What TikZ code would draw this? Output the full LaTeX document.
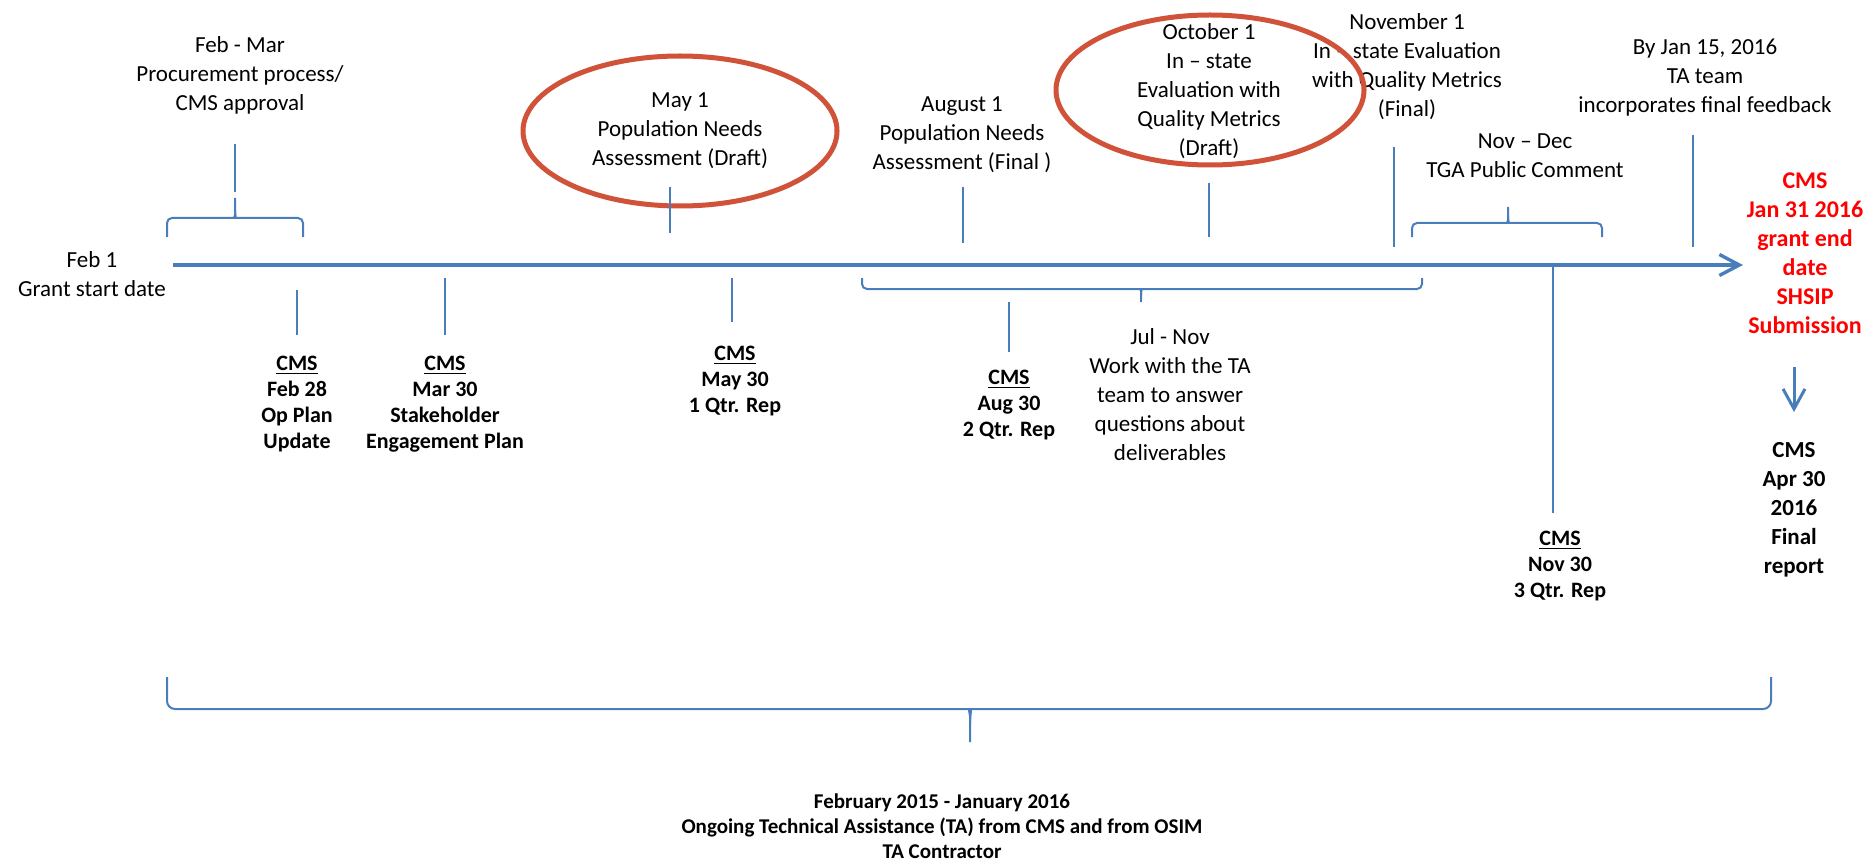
\documentclass[tikz,border=0pt]{standalone}
\usepackage{fontspec}
\setmainfont{Carlito}
\usetikzlibrary{arrows.meta}

\definecolor{lineblue}{RGB}{74,126,187}
\definecolor{ringred}{RGB}{208,82,56}

\tikzset{
  txt/.style={align=center, font=\fontsize{11.5}{14.5}\selectfont},
  cms/.style={align=center, font=\bfseries\fontsize{11}{13}\selectfont},
  tick/.style={draw=lineblue, line width=0.75pt},
  brc/.style={draw=lineblue, line width=1pt, rounded corners=2.5pt},
  ring/.style={draw=ringred, line width=2.5pt},
}

\begin{document}
\begin{tikzpicture}[x=0.5pt, y=-0.5pt]
    \useasboundingbox (0,0) rectangle (1866,861);
    % timeline
    \coordinate (tstart) at (173,265);
    \coordinate (tend) at (1743,265);
    \draw[lineblue, line width=1.7pt, -{Straight Barb[length=10pt,width=10.5pt]}] (tstart) -- (tend);

    % above the line
    \node[txt] (feb1) at (92,274) {Feb 1\\Grant start date};
    \node[txt] (febmar) at (240,75) {Feb - Mar\\Procurement process/\\CMS approval};
    \node[txt] (may1) at (680,131) {May 1\\Population Needs\\Assessment (Draft)};
    \node[txt] (aug1) at (962,135) {August 1\\Population Needs\\Assessment (Final )};
    \node[txt] (oct1) at (1209,91) {October 1\\In -- state\\Evaluation with\\Quality Metrics\\(Draft)};
    \node[txt] (nov1) at (1407,67) {November 1\\In -- state Evaluation\\with Quality Metrics\\(Final)};
    \node[txt] (novdec) at (1525,156) {Nov -- Dec\\TGA Public Comment};
    \node[txt] (jan15) at (1705,78) {By Jan 15, 2016\\TA team\\incorporates final feedback};
    \draw[ring] (may1) ellipse [x radius=157, y radius=75];
    \draw[ring] (1210,90) ellipse [x radius=154, y radius=75];

    % below the line
    \node[cms] (feb28) at (297,404) {\underline{CMS}\\Feb 28\\Op Plan\\Update};
    \node[cms] (mar30) at (445,404) {\underline{CMS}\\Mar 30\\Stakeholder\\Engagement Plan};
    \node[cms] (may30) at (735,381) {\underline{CMS}\\May 30\\1 Qtr. Rep};
    \node[cms] (aug30) at (1009,405) {\underline{CMS}\\Aug 30\\2 Qtr. Rep};
    \node[txt] (julnov) at (1170,395) {Jul - Nov\\Work with the TA\\team to answer\\questions about\\deliverables};
    \node[cms] (nov30) at (1560,566) {\underline{CMS}\\Nov 30\\3 Qtr. Rep};
    \node[align=center, text=red, font=\bfseries\fontsize{12}{14.5}\selectfont] (jan31) at (1805,253)
        {CMS\\Jan 31 2016\\grant end\\date\\SHSIP\\Submission};
    \node[align=center, font=\bfseries\fontsize{11.5}{14.5}\selectfont] (apr30) at (1794,510)
        {CMS\\Apr 30\\2016\\Final\\report};
    \node[align=center, font=\bfseries\fontsize{10.5}{12.5}\selectfont] (ongoing) at (942,826)
        {February 2015 - January 2016\\Ongoing Technical Assistance (TA) from CMS and from OSIM\\TA Contractor};

    % ticks
    \draw[tick] (235,144) -- (235,192);
    \draw[tick] (297,290) -- (297,335);
    \draw[tick] (445,278) -- (445,335);
    \draw[tick] (670,187) -- (670,233);
    \draw[tick] (732,278) -- (732,322);
    \draw[tick] (963,187) -- (963,243);
    \draw[tick] (1009,302) -- (1009,352);
    \draw[tick] (1209,183) -- (1209,237);
    \draw[tick] (1394,147) -- (1394,247);
    \draw[tick] (1693,135) -- (1693,247);
    \draw[tick] (1553,265) -- (1553,513);

    % braces
    \draw[brc] (167,237) -- (167,218) -- (229,218) .. controls (234,218) and (235,215) .. (235,210) -- (235,198);
    \draw[brc] (303,237) -- (303,218) -- (241,218) .. controls (236,218) and (235,215) .. (235,210);
    \draw[brc] (1412,237) -- (1412,223) -- (1502,223) .. controls (1507,223) and (1508,220) .. (1508,215) -- (1508,207);
    \draw[brc] (1602,237) -- (1602,223) -- (1514,223) .. controls (1509,223) and (1508,220) .. (1508,215);
    \draw[brc] (862,278) -- (862,289) -- (1136,289) .. controls (1140,289) and (1141,291) .. (1141,295) -- (1141,302);
    \draw[brc] (1422,278) -- (1422,289) -- (1146,289) .. controls (1142,289) and (1141,291) .. (1141,295);
    \draw[brc, rounded corners=4pt] (167,677) -- (167,709) -- (962,709) .. controls (968,709) and (970,714) .. (970,725) -- (970,742);
    \draw[brc, rounded corners=4pt] (1771,677) -- (1771,709) -- (978,709) .. controls (972,709) and (970,714) .. (970,725);

    % down arrow
    \coordinate (dtop) at (1794,367);
    \coordinate (dbot) at (1794,412);
    \draw[lineblue, line width=1.5pt, -{Straight Barb[length=10pt,width=11pt]}] (dtop) -- (dbot);
\end{tikzpicture}
\end{document}
